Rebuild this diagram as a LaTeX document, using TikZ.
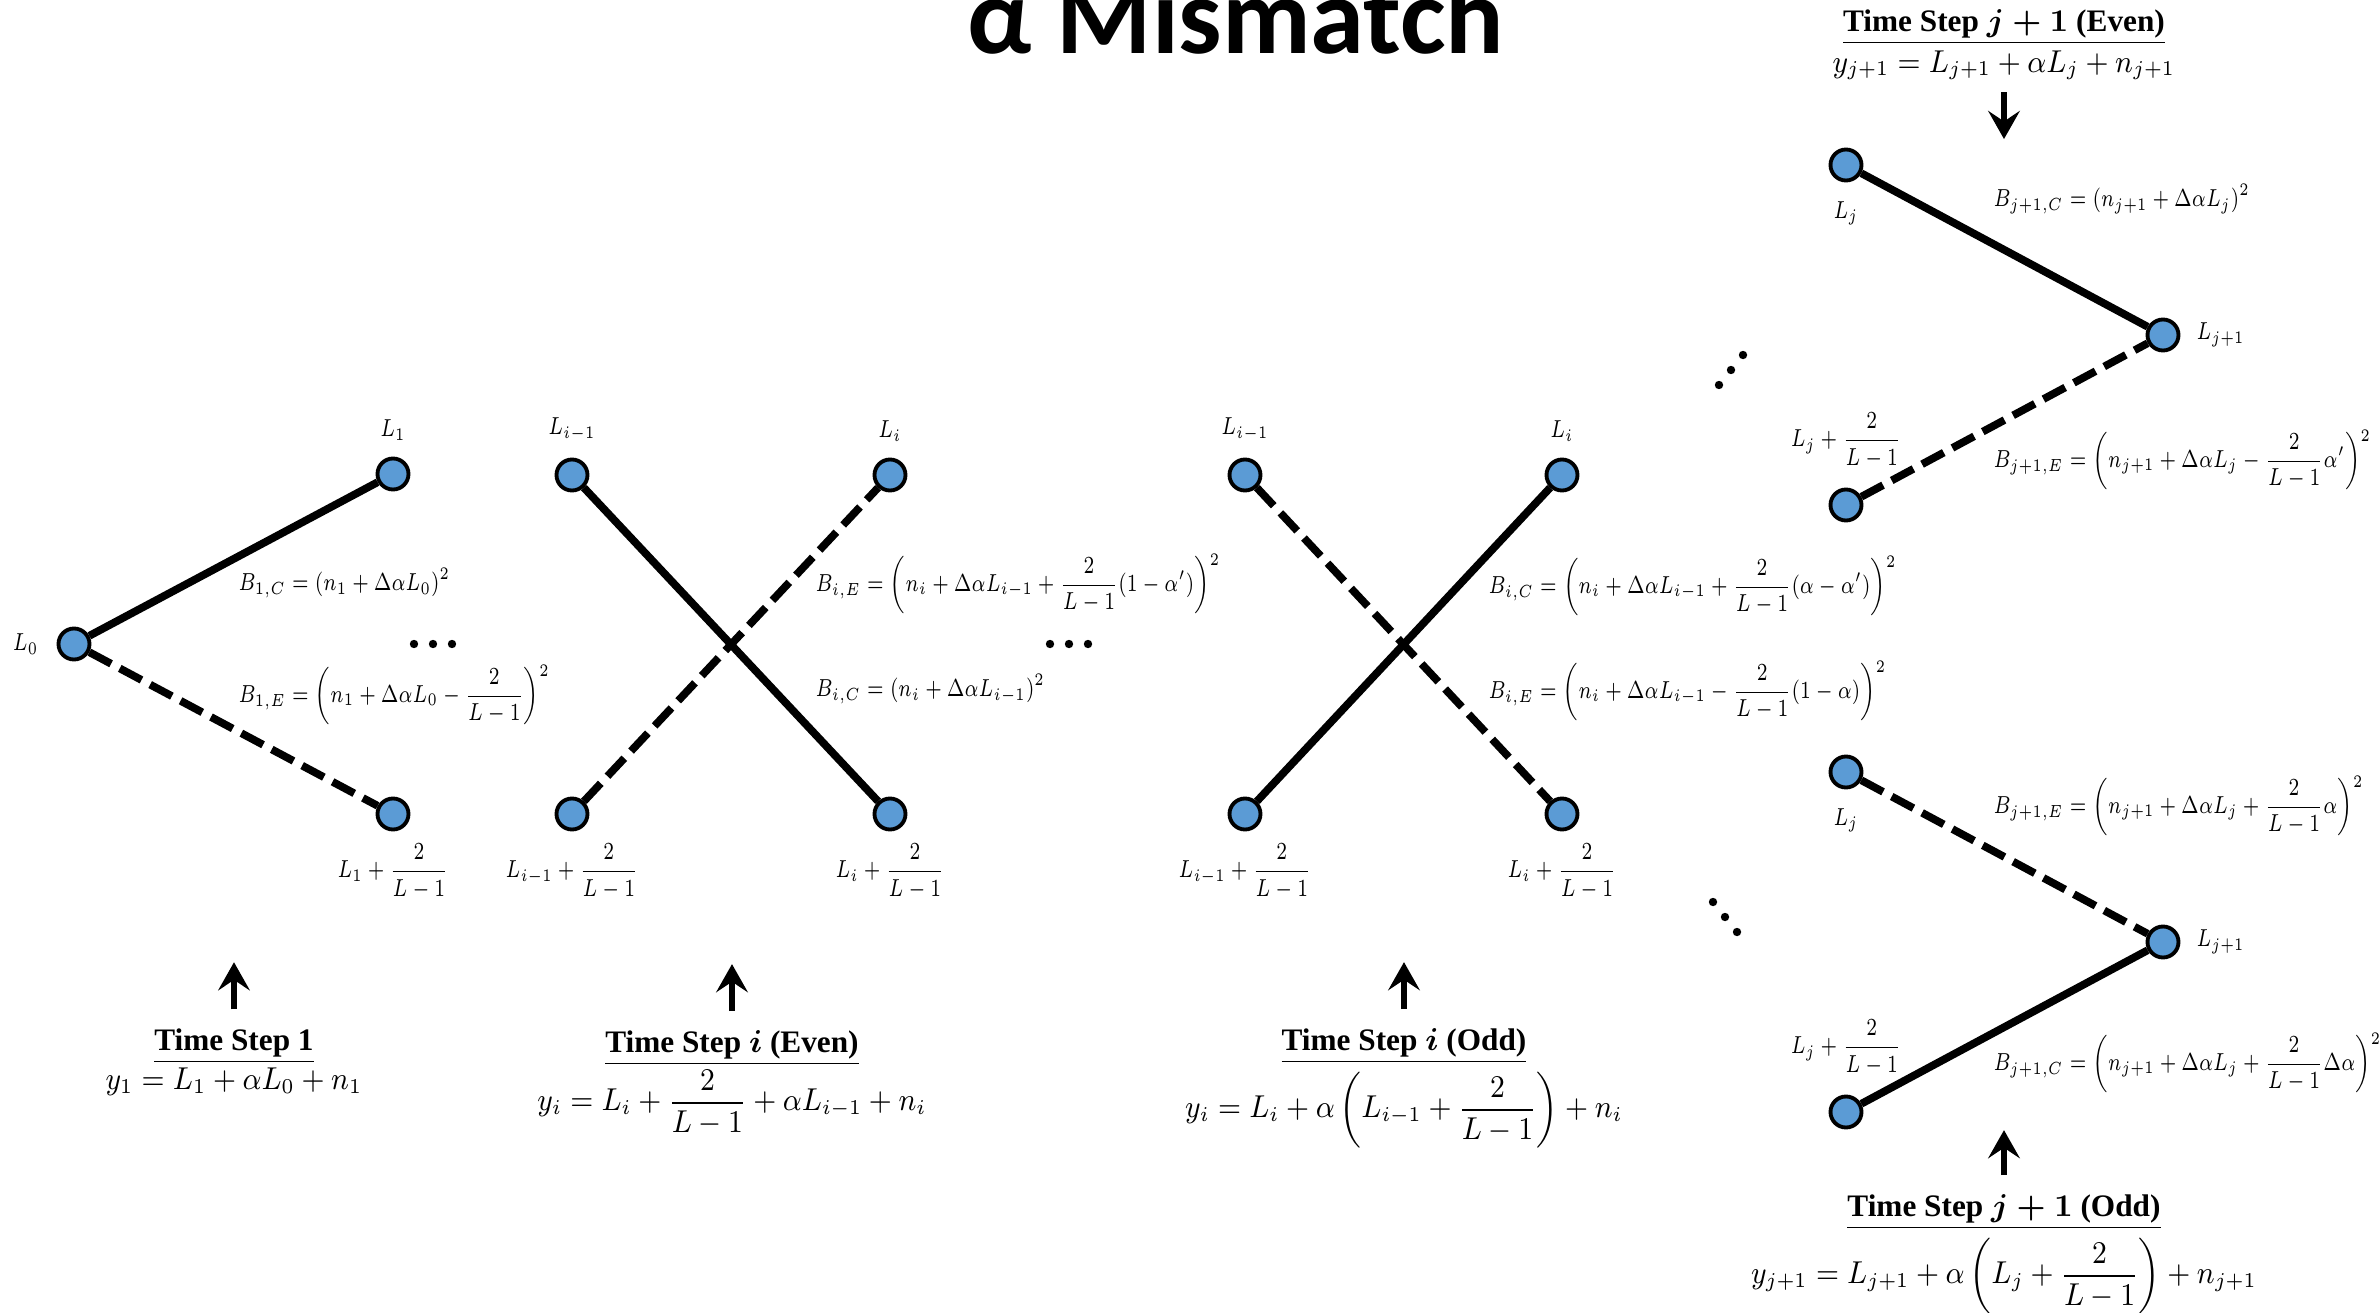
\documentclass[tikz,border=0pt]{standalone}
\usepackage{amsmath}
\usepackage{fontspec}
\newfontfamily\stepfont{Liberation Serif}
\newfontfamily\titlefont{Carlito}
\usetikzlibrary{positioning,arrows.meta}
\definecolor{lvlBlue}{RGB}{91,155,213}
\tikzset{
    lvl node/.style={circle, draw=black, line width=1.1pt, fill=lvlBlue,
                     minimum size=0.31cm, inner sep=0pt},
    lab/.style={inner sep=1pt, xscale=0.77, transform shape, font=\fontsize{6.8}{8}\selectfont},
    cost/.style={anchor=west, inner sep=0pt, xscale=0.77, transform shape, font=\fontsize{6.8}{8}\selectfont},
    corr/.style={line width=2.2pt},
    err/.style={line width=2.2pt, dash pattern=on 7pt off 2.8pt},
    stepttl/.style={font=\stepfont\bfseries\fontsize{8.9}{10}\selectfont, inner sep=1pt},
    stepeq/.style={font=\fontsize{8.7}{10}\selectfont, inner sep=1pt, xscale=0.91, transform shape},
    steparrow/.style={-{Stealth[length=8pt,width=9pt,inset=3pt]}, line width=1.8pt}
}

\begin{document}
\begin{tikzpicture}
  \useasboundingbox (0,0) rectangle (23.8,13.12);

  % Title
  \node[font=\titlefont\bfseries\fontsize{31}{36}\selectfont, anchor=base] (title) at (12.36,12.59) {α Mismatch};

  % Time step 1
  \node[lvl node] (p1a) at (0.74,6.68) {};
  \node[lvl node] (p1b) at (3.93,8.38) {};
  \node[lvl node] (p1c) at (3.93,4.98) {};
  \node[lab, left=0.15cm of p1a] (p1a_lbl) {$L_0$};
  \node[lab, above=0.12cm of p1b] (p1b_lbl) {$L_1$};
  \node[lab, below=0.08cm of p1c] (p1c_lbl) {$L_1+\dfrac{2}{L-1}$};
  \node[cost] (p1_bc) at (2.38,7.29) {$B_{1,C}=(n_1+\Delta\alpha L_0)^2$};
  \node[cost] (p1_be) at (2.38,6.17) {$B_{1,E}=\left(n_1+\Delta\alpha L_0-\dfrac{2}{L-1}\right)^2$};
  \draw[corr] (p1a) -- (p1b);
  \draw[err] (p1a) -- (p1c);
  \foreach \dx in {4.14,4.33,4.52} \fill (\dx,6.68) circle (0.042);

  % Time step i (even)
  \node[lvl node] (p2a) at (5.72,8.37) {};
  \node[lvl node] (p2b) at (8.90,8.37) {};
  \node[lvl node] (p2c) at (5.72,4.98) {};
  \node[lvl node] (p2d) at (8.90,4.98) {};
  \node[lab, above=0.12cm of p2a] (p2a_lbl) {$L_{i-1}$};
  \node[lab, above=0.12cm of p2b] (p2b_lbl) {$L_i$};
  \node[lab, below=0.08cm of p2c] (p2c_lbl) {$L_{i-1}+\dfrac{2}{L-1}$};
  \node[lab, below=0.08cm of p2d] (p2d_lbl) {$L_i+\dfrac{2}{L-1}$};
  \node[cost] (p2_be) at (8.15,7.28) {$B_{i,E}=\left(n_i+\Delta\alpha L_{i-1}+\dfrac{2}{L-1}(1-\alpha')\right)^2$};
  \node[cost] (p2_bc) at (8.15,6.23) {$B_{i,C}=(n_i+\Delta\alpha L_{i-1})^2$};
  \draw[corr] (p2a) -- (p2d);
  \draw[err] (p2c) -- (p2b);
  \foreach \dx in {10.50,10.69,10.88} \fill (\dx,6.68) circle (0.042);

  % Time step i (odd)
  \node[lvl node] (p3a) at (12.45,8.37) {};
  \node[lvl node] (p3b) at (15.62,8.37) {};
  \node[lvl node] (p3c) at (12.45,4.98) {};
  \node[lvl node] (p3d) at (15.62,4.98) {};
  \node[lab, above=0.12cm of p3a] (p3a_lbl) {$L_{i-1}$};
  \node[lab, above=0.12cm of p3b] (p3b_lbl) {$L_i$};
  \node[lab, below=0.08cm of p3c] (p3c_lbl) {$L_{i-1}+\dfrac{2}{L-1}$};
  \node[lab, below=0.08cm of p3d] (p3d_lbl) {$L_i+\dfrac{2}{L-1}$};
  \node[cost] (p3_bc) at (14.88,7.26) {$B_{i,C}=\left(n_i+\Delta\alpha L_{i-1}+\dfrac{2}{L-1}(\alpha-\alpha')\right)^2$};
  \node[cost] (p3_be) at (14.88,6.21) {$B_{i,E}=\left(n_i+\Delta\alpha L_{i-1}-\dfrac{2}{L-1}(1-\alpha)\right)^2$};
  \draw[err] (p3a) -- (p3d);
  \draw[corr] (p3c) -- (p3b);

  % Time step j+1 (even)
  \node[lvl node] (q1a) at (18.46,11.47) {};
  \node[lvl node] (q1b) at (21.63,9.77) {};
  \node[lvl node] (q1c) at (18.46,8.07) {};
  \node[lab, below=0.15cm of q1a] (q1a_lbl) {$L_j$};
  \node[lab, right=0.13cm of q1b] (q1b_lbl) {$L_{j+1}$};
  \node[lab, above=0.15cm of q1c] (q1c_lbl) {$L_j+\dfrac{2}{L-1}$};
  \node[cost] (q1_bc) at (19.93,11.13) {$B_{j+1,C}=\left(n_{j+1}+\Delta\alpha L_j\right)^2$};
  \node[cost] (q1_be) at (19.93,8.52) {$B_{j+1,E}=\left(n_{j+1}+\Delta\alpha L_j-\dfrac{2}{L-1}\alpha'\right)^2$};
  \draw[corr] (q1a) -- (q1b);
  \draw[err] (q1c) -- (q1b);
  \foreach \t in {-1,0,1} \fill ({17.31+\t*0.12},{9.42+\t*0.15}) circle (0.042);

  % Time step j+1 (odd)
  \node[lvl node] (q2a) at (18.46,5.40) {};
  \node[lvl node] (q2b) at (21.63,3.70) {};
  \node[lvl node] (q2c) at (18.46,2.00) {};
  \node[lab, below=0.15cm of q2a] (q2a_lbl) {$L_j$};
  \node[lab, right=0.13cm of q2b] (q2b_lbl) {$L_{j+1}$};
  \node[lab, above=0.15cm of q2c] (q2c_lbl) {$L_j+\dfrac{2}{L-1}$};
  \node[cost] (q2_be) at (19.93,5.06) {$B_{j+1,E}=\left(n_{j+1}+\Delta\alpha L_j+\dfrac{2}{L-1}\alpha\right)^2$};
  \node[cost] (q2_bc) at (19.93,2.49) {$B_{j+1,C}=\left(n_{j+1}+\Delta\alpha L_j+\dfrac{2}{L-1}\Delta\alpha\right)^2$};
  \draw[err] (q2a) -- (q2b);
  \draw[corr] (q2c) -- (q2b);
  \foreach \t in {-1,0,1} \fill ({17.25+\t*0.12},{3.95-\t*0.15}) circle (0.042);

  % Captions
  \node[stepttl] (ts1) at (2.34,2.66) {\underline{Time Step 1}};
  \node[stepeq, below=-0.04cm of ts1] (ts1_eq) {$y_1=L_1+\alpha L_0+n_1$};
  \node[stepttl] (tse) at (7.32,2.64) {\underline{Time Step {\boldmath$i$} (Even)}};
  \node[stepeq, below=-0.04cm of tse] (tse_eq) {$y_i=L_i+\dfrac{2}{L-1}+\alpha L_{i-1}+n_i$};
  \node[stepttl] (tso) at (14.04,2.66) {\underline{Time Step {\boldmath$i$} (Odd)}};
  \node[stepeq, below=0cm of tso] (tso_eq) {$y_i=L_i+\alpha\left(L_{i-1}+\dfrac{2}{L-1}\right)+n_i$};
  \node[stepttl] (tje) at (20.04,12.85) {\underline{Time Step {\boldmath$j+1$} (Even)}};
  \node[stepeq, below=-0.025cm of tje] (tje_eq) {$y_{j+1}=L_{j+1}+\alpha L_j+n_{j+1}$};
  \node[stepttl] (tjo) at (20.04,1.00) {\underline{Time Step {\boldmath$j+1$} (Odd)}};
  \node[stepeq, below=0cm of tjo] (tjo_eq) {$y_{j+1}=L_{j+1}+\alpha\left(L_j+\dfrac{2}{L-1}\right)+n_{j+1}$};

  % Arrows
  \draw[steparrow] ([yshift=1.5mm]ts1.north) -- ++(0,0.47);
  \draw[steparrow] ([yshift=1.5mm]tse.north) -- ++(0,0.47);
  \draw[steparrow] ([yshift=1.5mm]tso.north) -- ++(0,0.47);
  \draw[steparrow] ([yshift=-0.8mm]tje_eq.south) -- ++(0,-0.47);
  \draw[steparrow] ([yshift=1.5mm]tjo.north) -- ++(0,0.45);
\end{tikzpicture}
\end{document}
